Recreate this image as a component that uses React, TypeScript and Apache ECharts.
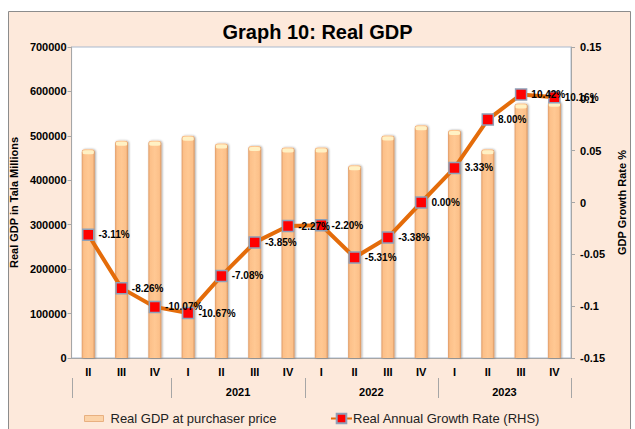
import React, { useEffect, useRef } from "react";
import * as echarts from "echarts";

const quarters = ["II", "III", "IV", "I", "II", "III", "IV", "I", "II", "III", "IV", "I", "II", "III", "IV"];
const years = ["2021", "2022", "2023"];
const yearCentres = [5, 9, 13];
const yearBounds = [0, 3, 7, 11, 15];
const realGdp = [470000, 489000, 489000, 500000, 483000, 477000, 474000, 474000, 434000, 501000, 524000, 513000, 470000, 573000, 577000];
const growthPct = [-3.11, -8.26, -10.07, -10.67, -7.08, -3.85, -2.27, -2.2, -5.31, -3.38, 0.0, 3.33, 8.0, 10.42, 10.16];
const leftTicks = { min: 0, max: 700000, interval: 100000 };
const rightTicks = { min: -15, max: 15, interval: 5 };

const barName = "Real GDP at purchaser price";
const lineName = "Real Annual Growth Rate (RHS)";

export default function App() {
  const ref = useRef<HTMLDivElement>(null);
  useEffect(() => {
    document.body.style.margin = "0";
    const chart = echarts.init(ref.current!, null, { renderer: "svg" });
    const font = "Liberation Sans, Arial, sans-serif";
    const axisText = { color: "#000", fontSize: 11, fontWeight: "bold" as const, fontFamily: font };
    const barGrad = new echarts.graphic.LinearGradient(0, 0, 1, 0, [
      { offset: 0, color: "#E09C68" },
      { offset: 0.15, color: "#FCC089" },
      { offset: 0.5, color: "#FFC893" },
      { offset: 0.85, color: "#FCC089" },
      { offset: 1, color: "#D6925E" },
    ]);
    const frame = {
      type: "rect",
      id: "frame",
      z: -10,
      shape: { x: 8.5, y: 11.5, width: 622, height: 430 },
      style: { fill: "#FDE9DB", stroke: "#8C8C8C", lineWidth: 1 },
      silent: true,
    };
    chart.setOption({
      animation: false,
      backgroundColor: "#fff",
      graphic: [frame],
      title: {
        text: "Graph 10: Real GDP",
        left: "center",
        top: 17,
        textStyle: { fontSize: 20, fontWeight: "bold", color: "#000", fontFamily: font },
      },
      grid: {
        left: 71,
        right: 57,
        top: 47,
        bottom: 71,
        show: true,
        backgroundColor: "#fff",
        borderColor: "#A9B9CE",
        borderWidth: 1,
      },
      legend: [
        {
          data: [{ name: barName, icon: "rect" }],
          left: 79,
          top: 407,
          itemWidth: 19,
          itemHeight: 6,
          textStyle: { fontSize: 13, color: "#222", fontFamily: font, padding: [0, 0, 0, 2] },
          itemStyle: { color: "#FCD3A8", borderColor: "#E8B080", borderWidth: 1 },
        },
        {
          data: [{ name: lineName }],
          left: 325,
          top: 407,
          itemWidth: 21,
          itemHeight: 12,
          textStyle: { fontSize: 13, color: "#222", fontFamily: font, padding: [0, 0, 0, -4] },
        },
      ],
      xAxis: [
        {
          type: "category",
          data: quarters,
          boundaryGap: true,
          axisLine: { lineStyle: { color: "#A6A6A6" } },
          axisTick: { length: 20, interval: 0, lineStyle: { color: "#A6A6A6" } },
          axisLabel: { ...axisText, margin: 8, interval: 0 },
        },
        {
          type: "value",
          position: "bottom",
          offset: 20,
          min: 0,
          max: 15,
          splitLine: { show: false },
          axisLine: { show: false },
          axisTick: { show: false },
          axisLabel: {
            ...axisText,
            margin: 8,
            customValues: yearCentres,
            formatter: (v: number) => years[yearCentres.indexOf(v)] ?? "",
          },
        },
      ],
      yAxis: [
        {
          type: "value",
          ...leftTicks,
          name: "Real GDP in Tala Millions",
          nameLocation: "middle",
          nameGap: 51,
          nameRotate: 90,
          nameTextStyle: { ...axisText },
          splitLine: { show: false },
          axisLine: { show: true, lineStyle: { color: "#A6A6A6" } },
          axisTick: { show: true, length: 4, lineStyle: { color: "#A6A6A6" } },
          axisLabel: { ...axisText, margin: 5, formatter: (v: number) => String(v) },
        },
        {
          type: "value",
          ...rightTicks,
          position: "right",
          name: "GDP Growth Rate %",
          nameLocation: "middle",
          nameGap: 38,
          nameRotate: 90,
          nameTextStyle: { ...axisText },
          splitLine: { show: false },
          axisLine: { show: true, lineStyle: { color: "#A6A6A6" } },
          axisTick: { show: true, length: 4, lineStyle: { color: "#A6A6A6" } },
          axisLabel: { ...axisText, margin: 9, formatter: (v: number) => String(+(v / 100).toFixed(2)) },
        },
      ],
      series: [
        {
          name: barName,
          type: "bar",
          data: realGdp,
          barWidth: 13,
          itemStyle: {
            color: barGrad,
            shadowColor: "rgba(0,0,0,0.35)",
            shadowBlur: 2,
            shadowOffsetX: 1,
            shadowOffsetY: 0,
            borderRadius: [3, 3, 0, 0],
          },
          z: 2,
        },
        {
          name: "cap",
          type: "pictorialBar",
          data: realGdp,
          symbol: "roundRect",
          symbolSize: [11, 4],
          symbolPosition: "end",
          symbolOffset: [0, 1],
          itemStyle: { color: "#FFF1C4" },
          silent: true,
          z: 3,
        },
        {
          name: lineName,
          type: "line",
          yAxisIndex: 1,
          data: growthPct,
          symbol: "rect",
          symbolSize: 11,
          lineStyle: { color: "#E46C0A", width: 4 },
          itemStyle: { color: "#FF0000", borderColor: "#8EA0B8", borderWidth: 1.5 },
          label: {
            show: true,
            position: "right",
            distance: 4,
            color: "#000",
            fontSize: 10,
            fontWeight: "bold",
            fontFamily: font,
            formatter: (p: any) => (p.value as number).toFixed(2) + "%",
          },
          z: 5,
        },
      ],
    });
    // year-group separators, positioned through the axes' own scales
    const y0 = chart.convertToPixel({ yAxisIndex: 0 }, 0) as number;
    const seps = yearBounds.map((b, i) => {
      const x = Math.round(chart.convertToPixel({ xAxisIndex: 1 }, b) as number) + 0.5;
      return {
        type: "line",
        id: "sep" + i,
        silent: true,
        shape: { x1: x, y1: y0 + 20, x2: x, y2: y0 + 40 },
        style: { stroke: "#A6A6A6", lineWidth: 1 },
      };
    });
    chart.setOption({ graphic: [frame, ...seps] });
    return () => chart.dispose();
  }, []);
  return <div ref={ref} style={{ width: 635, height: 429 }} />;
}
